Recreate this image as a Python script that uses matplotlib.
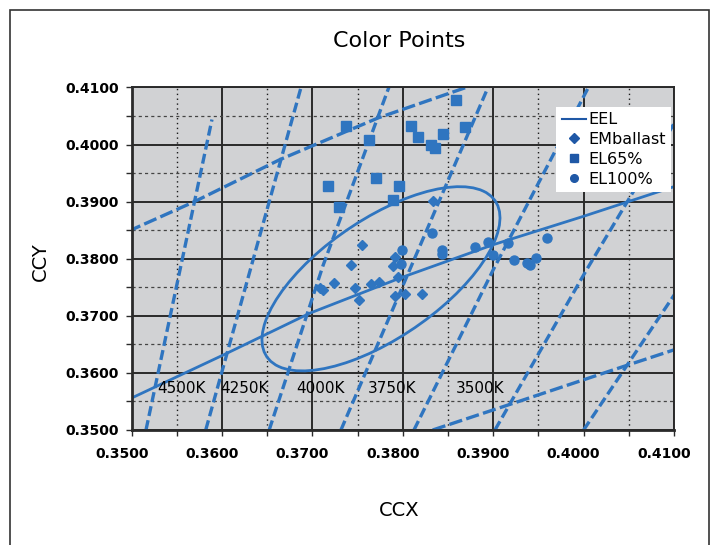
import matplotlib
matplotlib.use("Agg")
import matplotlib.pyplot as plt
import matplotlib.transforms as mtransforms
from matplotlib.patches import Ellipse, Rectangle
from matplotlib.lines import Line2D
from matplotlib.ticker import MultipleLocator, FormatStrFormatter

blue = '#2f75c0'
dark_blue = '#1f58a6'

# measured colour points
emb_x = [0.37544, 0.37431, 0.37083, 0.37120, 0.37241, 0.37470, 0.37518, 0.37645,
         0.37732, 0.37913, 0.37887, 0.37946, 0.37916, 0.38023, 0.38215, 0.38339]
emb_y = [0.38240, 0.37886, 0.37491, 0.37447, 0.37567, 0.37496, 0.37281, 0.37549,
         0.37596, 0.38030, 0.37872, 0.37689, 0.37351, 0.37382, 0.37386, 0.39011]

el65_x = [0.37367, 0.37628, 0.37175, 0.37296, 0.37702, 0.37957, 0.37894,
          0.38090, 0.38170, 0.38316, 0.38355, 0.38440, 0.38591, 0.38693]
el65_y = [0.40321, 0.40088, 0.39268, 0.38904, 0.39409, 0.39268, 0.39035,
          0.40321, 0.40128, 0.40000, 0.39942, 0.40193, 0.40781, 0.40311]

el100_x = [0.37987, 0.37979, 0.38322, 0.38436, 0.38436, 0.38803, 0.38941,
           0.38997, 0.39163, 0.39232, 0.39369, 0.39406, 0.39478, 0.39600]
el100_y = [0.38146, 0.37900, 0.38451, 0.38149, 0.38079, 0.38202, 0.38293,
           0.38070, 0.38272, 0.37970, 0.37924, 0.37886, 0.38005, 0.38363]

# black body locus
bbl_x = [0.3500, 0.36032, 0.36972, 0.37968, 0.39000, 0.39996, 0.4100]
bbl_y = [0.35561, 0.36328, 0.37047, 0.37661, 0.38246, 0.38742, 0.39263]

# tolerance ellipse: centre, semi axes, rotation (deg)
ell_center = (0.37758, 0.37649)
ell_a = 0.01908
ell_b = 0.00835
ell_angle = 53.6

# quadrangle boundaries (steep isotemperature lines)
cct_line_x = [[0.35158, 0.35888],
              [0.35819, 0.36873],
              [0.36521, 0.37116, 0.37857],
              [0.37315, 0.38956],
              [0.38123, 0.39000, 0.40070],
              [0.39019, 0.40033, 0.41239],
              [0.40000, 0.41150]]
cct_line_y = [[0.35000, 0.40439],
              [0.35000, 0.41000],
              [0.35000, 0.37877, 0.41053],
              [0.35000, 0.41053],
              [0.35000, 0.37807, 0.41053],
              [0.35000, 0.37807, 0.41000],
              [0.35000, 0.37714]]

# upper and lower quadrangle edges
upper_x = [0.34960, 0.35700, 0.36640, 0.37728, 0.38698]
upper_y = [0.38480, 0.39005, 0.39737, 0.40468, 0.41000]
lower_x = [0.38330, 0.39166, 0.40438, 0.41000]
lower_y = [0.35000, 0.35439, 0.36111, 0.36404]

cct_labels = ['4500K', '4250K', '4000K', '3750K', '3500K']
cct_label_x = [0.35556, 0.36253, 0.37094, 0.37880, 0.38853]
cct_label_y = 0.3572

fig = plt.figure(figsize=(7.16, 5.45), dpi=100)
ax = fig.add_axes([0.18394, 0.21101, 0.75740, 0.62844])
ax.set_facecolor('#d1d2d4')

ax.set_xlim(0.35, 0.41)
ax.set_ylim(0.35, 0.41)
ax.xaxis.set_major_locator(MultipleLocator(0.01))
ax.xaxis.set_minor_locator(MultipleLocator(0.005))
ax.yaxis.set_major_locator(MultipleLocator(0.01))
ax.yaxis.set_minor_locator(MultipleLocator(0.005))
ax.xaxis.set_major_formatter(FormatStrFormatter('%.4f'))
ax.yaxis.set_major_formatter(FormatStrFormatter('%.4f'))

ax.grid(which='major', color='#2a2a2a', linewidth=1.4, linestyle='-')
ax.grid(which='minor', axis='x', color='#1a1a1a', linewidth=1.0, linestyle=(0, (1, 2.5)))
ax.grid(which='minor', axis='y', color='#444444', linewidth=0.9, linestyle=(0, (2.5, 2.5)))
ax.set_axisbelow(True)

for s in ax.spines.values():
    s.set_color('#2a2a2a')
    s.set_linewidth(1.4)
ax.spines['left'].set_linewidth(2)
ax.spines['bottom'].set_linewidth(2)

ax.tick_params(which='both', direction='out', length=4, width=1, color='#2a2a2a')
ax.tick_params(axis='y', which='major', labelsize=10, pad=5)
ax.tick_params(axis='x', which='major', labelsize=10, pad=8)
for lab in ax.get_xticklabels() + ax.get_yticklabels():
    lab.set_fontweight('bold')
shift = mtransforms.ScaledTranslation(-0.1, 0, fig.dpi_scale_trans)
for lab in ax.get_xticklabels():
    lab.set_transform(lab.get_transform() + shift)

# boundaries
for xs, ys in zip(cct_line_x, cct_line_y):
    ax.plot(xs, ys, color=blue, linewidth=2.4, linestyle=(0, (3, 1.3)))
ax.plot(upper_x, upper_y, color=blue, linewidth=2.4, linestyle=(0, (4, 1.3)))
ax.plot(lower_x, lower_y, color=blue, linewidth=2.4, linestyle=(0, (4, 1.3)))

ax.plot(bbl_x, bbl_y, color=blue, linewidth=2)
ax.add_patch(Ellipse(ell_center, 2 * ell_a, 2 * ell_b, angle=ell_angle,
                     fill=False, edgecolor=blue, linewidth=2))

ax.plot(emb_x, emb_y, linestyle='none', marker='D', markersize=5.5, color=blue)
ax.plot(el65_x, el65_y, linestyle='none', marker='s', markersize=6.5, color=blue)
ax.plot(el100_x, el100_y, linestyle='none', marker='o', markersize=6.5, color=blue)

for lab, lx in zip(cct_labels, cct_label_x):
    ax.text(lx, cct_label_y, lab, fontsize=11, ha='center', va='center', color='black')

handles = [Line2D([], [], color=dark_blue, linewidth=1.5),
           Line2D([], [], color=dark_blue, marker='D', linestyle='none', markersize=5),
           Line2D([], [], color=dark_blue, marker='s', linestyle='none', markersize=5.5),
           Line2D([], [], color=dark_blue, marker='o', linestyle='none', markersize=5.5)]
leg = ax.legend(handles, ['EEL', 'EMballast', 'EL65%', 'EL100%'],
                loc='upper left', bbox_to_anchor=(0.7824, 0.944), borderaxespad=0,
                fontsize=11.5, frameon=True, fancybox=False, framealpha=1,
                handlelength=1.5, handletextpad=0.15, labelspacing=0.3,
                borderpad=0.35)
leg.get_frame().set_edgecolor('white')
leg.get_frame().set_facecolor('white')
leg.get_frame().set_linewidth(0)

fig.text(399 / 716, 1 - 41 / 545, 'Color Points', fontsize=16, ha='center', va='center')
fig.text(399 / 716, 1 - 510 / 545, 'CCX', fontsize=14, ha='center', va='center')
fig.text(40 / 716, 1 - 262 / 545, 'CCY', fontsize=14, ha='center', va='center', rotation=90)

fig.add_artist(Rectangle((10 / 716, -0.05), 699 / 716, 1.05 - 10 / 545,
                         transform=fig.transFigure, fill=False,
                         edgecolor='#333333', linewidth=1.2))

fig.savefig('out.png', dpi=100)
